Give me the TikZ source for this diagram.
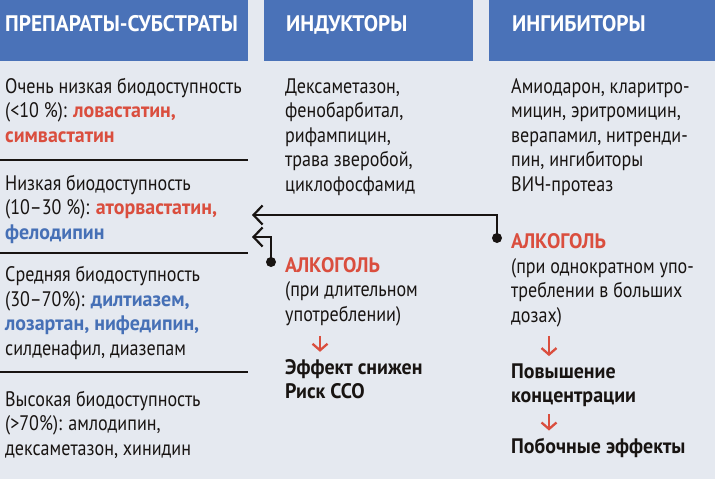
\documentclass[tikz,border=0pt]{standalone}
\usepackage{fontspec}
\setmainfont{PT Sans}[FakeStretch=0.86,BoldFeatures={FakeStretch=0.95}]
\usetikzlibrary{arrows.meta,positioning}
\definecolor{PageBg}{RGB}{229,233,240}
\definecolor{HeadBlue}{RGB}{74,114,184}
\definecolor{TxtBlue}{RGB}{70,112,182}
\definecolor{TxtRed}{RGB}{218,78,62}
\definecolor{Ink}{RGB}{24,20,18}
\newcommand{\rd}[1]{\textcolor{TxtRed}{\bfseries #1}}
\newcommand{\bl}[1]{\textcolor{TxtBlue}{\bfseries #1}}

\begin{document}
\begin{tikzpicture}[x=1pt,y=-1pt,
  headtxt/.style={anchor=base west,inner sep=0pt,text=white,font=\fontsize{22.5}{26}\selectfont\bfseries},
  txt/.style={anchor=base west,inner sep=0pt,align=left,text=Ink,font=\fontsize{21}{24.5}\selectfont},
  boldtxt/.style={txt,font=\fontsize{21}{24}\selectfont\bfseries},
  sep/.style={draw=Ink,line width=1.4pt},
  dot/.style={circle,fill=Ink,inner sep=0pt,minimum size=10pt},
  conn/.style={draw=Ink,line width=2.2pt,-{Straight Barb[length=9pt,width=19pt]}},
  redarr/.style={draw=TxtRed,line width=2.3pt,-{Straight Barb[length=6.5pt,width=15pt]}}
]
\useasboundingbox (0,0) rectangle (715,479);
\fill[PageBg] (0,0) rectangle (715,479);

% headers
\fill[HeadBlue] (0,0) rectangle (248,61);
\fill[HeadBlue] (264,0) rectangle (473,61);
\fill[HeadBlue] (489,0) rectangle (715,61);
\node[headtxt] (hsub) at (5,31) {ПРЕПАРАТЫ-СУБСТРАТЫ};
\node[headtxt] (hind) at (286,31) {ИНДУКТОРЫ};
\node[headtxt] (hinh) at (512,31) {ИНГИБИТОРЫ};

% substrates (nodes sit on the baseline of their last line)
\node[txt] (vlow) at (5,142) {Очень низкая биодоступность\\(<10 \%): \rd{ловастатин,}\\\rd{симвастатин}};
\node[txt] (low) at (5,239) {Низкая биодоступность\\(10–30 \%): \rd{аторвастатин,}\\\bl{фелодипин}};
\node[txt] (mid) at (5,355) {Средняя биодоступность\\(30–70\%): \bl{дилтиазем,}\\\bl{лозартан, нифедипин,}\\силденафил, диазепам};
\node[txt] (high) at (5,455) {Высокая биодоступность\\(>70\%): амлодипин,\\дексаметазон, хинидин};
\draw[sep] (0,160) -- (248,160);
\draw[sep] (0,253) -- (248,253);
\draw[sep] (0,372) -- (248,372);

% inducers
\node[txt] (ind) at (285,191) {Дексаметазон,\\фенобарбитал,\\рифампицин,\\трава зверобой,\\циклофосфамид};
\node[txt] (alcL) at (285,321) {\rd{АЛКОГОЛЬ}\\(при длительном\\употреблении)};
\node[boldtxt] (effL) at (285,398) {Эффект снижен\\Риск ССО};

% inhibitors
\node[txt] (inh) at (511,191) {Амиодарон, кларитро-\\мицин, эритромицин,\\верапамил, нитренди-\\пин, ингибиторы\\ВИЧ-протеаз};
\node[txt] (alcR) at (511,322) {\rd{АЛКОГОЛЬ}\\(при однократном упо-\\треблении в больших\\дозах)};
\node[boldtxt] (raise) at (511,402) {Повышение\\концентрации};
\node[boldtxt] (side) at (511,453) {Побочные эффекты};

% connectors
\node[dot] (dotR) at (497,238) {};
\node[dot] (dotL) at (271,262) {};
\coordinate (tipR) at (252,215);
\coordinate (tipL) at (252,237);
\draw[conn] (dotR.center) |- (tipR);
\draw[conn] (dotL.center) |- (tipL);

\draw[redarr] ([shift={(35,10)}]alcL.south west) -- ([shift={(35,-7)}]effL.north west);
\draw[redarr] ([shift={(38,9)}]alcR.south west) -- ([shift={(38,-7)}]raise.north west);
\draw[redarr] ([shift={(38,8)}]raise.south west) -- ([shift={(38,-7)}]side.north west);
\end{tikzpicture}
\end{document}
